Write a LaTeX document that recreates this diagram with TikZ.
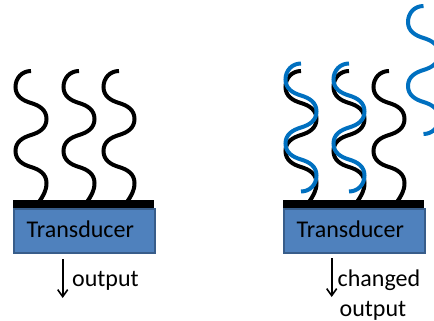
\documentclass[tikz,border=0pt]{standalone}
\usepackage{fontspec}
\setmainfont{Carlito}
\usetikzlibrary{arrows.meta}
\definecolor{boxfill}{HTML}{4F81BD}
\definecolor{boxline}{HTML}{385D8A}
\definecolor{strandblue}{HTML}{0070C0}
% one strand: rounded lobes, left first, relative to its top end (y grows downwards)
\newcommand\strandbody{(0,0)
  .. controls (-9,0) and (-15.5,7) .. (-15.5,16)
  .. controls (-15.5,25) and (-8.6,29.4) .. (0,32)
  .. controls (8.6,34.6) and (15.5,39) .. (15.5,48)
  .. controls (15.5,57) and (8.6,61.4) .. (0,64)
  .. controls (-8.6,66.6) and (-15.5,71) .. (-15.5,80)
  .. controls (-15.5,89) and (-8.6,93.4) .. (0,96)
  .. controls (8.6,98.6) and (15.5,103) .. (15.5,112)}
% foot running into the surface layer
\newcommand\strandroot{.. controls (15.5,120) and (12,125) .. (8,131)}
% free end curling back
\newcommand\strandhook{.. controls (15.5,121) and (9,128) .. (0,128)}
\begin{document}
\begin{tikzpicture}[x=1pt,y=-1pt,
  strand/.style={line width=4pt, line cap=butt},
  boundstrand/.style={strand, draw=strandblue},
  substrate/.style={fill=boxfill, draw=boxline, line width=1.5pt,
    minimum width=141pt, minimum height=44pt, inner sep=0pt, anchor=north west},
  layer/.style={fill=black},
  label/.style={font=\fontsize{24}{29.5}\selectfont, inner sep=0pt, anchor=base west},
  readout/.style={line width=1.6pt, -{Straight Barb[length=7pt,width=10pt]}}]
\useasboundingbox (0,0) rectangle (434,321);
\clip (0,0) rectangle (434,321);

% ---- bare sensor ----
\foreach \cx in {31,79,119}{
  \draw[strand, shift={(\cx,71)}] \strandbody \strandroot;
}
\fill[layer] (13,200) rectangle (154,208);
\node[substrate] (box1) at (13,208) {};
\node[label] (tx1) at (26.5,237.3) {Transducer};
\coordinate (o1top) at (62.7,259);
\coordinate (o1bot) at (62.7,298);
\draw[readout] (o1top) -- (o1bot);
\node[label] (out1) at (72,286.7) {output};

% ---- sensor with bound strands ----
\foreach \cx in {301,349,389}{
  \draw[strand, shift={(\cx,71)}] \strandbody \strandroot;
}
\foreach \cx in {301,349}{
  \draw[boundstrand, shift={(\cx,63.5)}] \strandbody \strandhook;
}
% free strand drifting away
\draw[boundstrand, shift={(423.5,6)}] \strandbody \strandhook;
\fill[layer] (283,200) rectangle (424,208);
\node[substrate] (box2) at (283,208) {};
\node[label] (tx2) at (296.5,237.3) {Transducer};
\coordinate (o2top) at (331.7,258);
\coordinate (o2bot) at (331.7,297);
\draw[readout] (o2top) -- (o2bot);
\node[label] (out2a) at (337.5,286.7) {changed};
\node[label] (out2b) at (339.5,316.3) {output};
\end{tikzpicture}
\end{document}
